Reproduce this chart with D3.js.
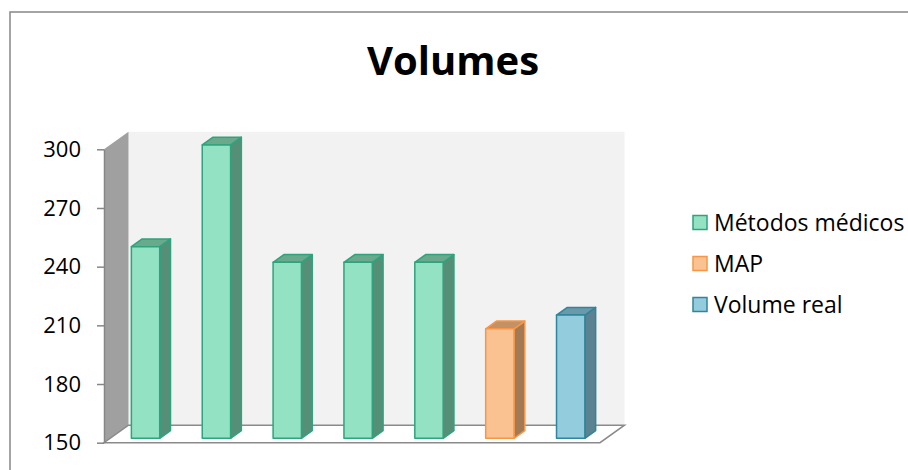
<!DOCTYPE html>
<html>
<head>
<meta charset="utf-8">
<script src="https://cdn.jsdelivr.net/npm/d3@7"></script>
<style>
  body { margin: 0; background: #fff; }
  svg { display: block; font-family: "Open Sans", sans-serif; }
</style>
</head>
<body>
<svg id="chart" width="908" height="470"></svg>
<script>
// chart values
var categories = ['c1', 'c2', 'c3', 'c4', 'c5', 'c6', 'c7'];
var volumes = [248, 300, 240, 240, 240, 206, 213];
var groups = ['Métodos médicos', 'Métodos médicos', 'Métodos médicos', 'Métodos médicos', 'Métodos médicos', 'MAP', 'Volume real'];
var legend_names = ['Métodos médicos', 'MAP', 'Volume real'];
var y_ticks = [150, 180, 210, 240, 270, 300];

var COLORS = {
	'Métodos médicos': {fill: '#93e2c3', stroke: '#2ea37e', side: '#568f78', top: '#6aa98c'},
	'MAP': {fill: '#fac290', stroke: '#f79646', side: '#a27a56', top: '#c29166'},
	'Volume real': {fill: '#93cddd', stroke: '#31849b', side: '#5b8290', top: '#6a9aaa'}
};

// 3d depth vector of the plot box
var DX = 24.5, DY = -17.5;
var Z0 = 0.25, Z1 = 0.69;

var svg = d3.select('#chart');

// outer frame
svg.append('rect')
	.attr('x', 10).attr('y', 12)
	.attr('width', 910).attr('height', 470)
	.attr('fill', 'none')
	.attr('stroke', '#878787')
	.attr('stroke-width', 1.5);

svg.append('text')
	.attr('x', 453).attr('y', 75)
	.attr('text-anchor', 'middle')
	.attr('font-size', 40)
	.attr('font-weight', 'bold')
	.text('Volumes');

var x = d3.scaleBand()
	.domain(categories)
	.range([104, 600])
	.paddingInner(0)
	.paddingOuter(0);

var y = d3.scaleLinear()
	.domain([150, 300])
	.range([442.7, 149.3]);

var x0 = x.range()[0], x1 = x.range()[1];
var yb = y(150), yt = y(300);

function pts(a) { return a.map(function(p) { return p.join(','); }).join(' '); }

// back wall
svg.append('polygon')
	.attr('points', pts([[x0 + DX, yt + DY], [x1 + DX, yt + DY], [x1 + DX, yb + DY], [x0 + DX, yb + DY]]))
	.attr('fill', '#f2f2f2');

// side wall
svg.append('polygon')
	.attr('points', pts([[x0, yt], [x0 + DX, yt + DY], [x0 + DX, yb + DY], [x0, yb]]))
	.attr('fill', '#a0a0a0');

// floor
svg.append('polygon')
	.attr('points', pts([[x0, yb], [x1, yb], [x1 + DX, yb + DY], [x0 + DX, yb + DY]]))
	.attr('fill', '#ffffff')
	.attr('stroke', '#8a8a8a')
	.attr('stroke-width', 1.5);

// y axis
var y_axis = svg.append('g')
	.attr('transform', 'translate(' + x0 + ',0)')
	.call(d3.axisLeft(y).tickValues(y_ticks).tickSize(7).tickPadding(16).tickSizeOuter(0));
y_axis.select('.domain').attr('stroke', '#868686').attr('stroke-width', 1.5);
y_axis.selectAll('.tick line').attr('stroke', '#868686').attr('stroke-width', 1.5);
y_axis.selectAll('.tick text')
	.attr('font-family', '"Open Sans", sans-serif')
	.attr('font-size', 22)
	.attr('fill', '#000');

// bars
var bw = x.bandwidth() * 0.4;
var bars = svg.append('g');
volumes.forEach(function(v, i) {
	var c = COLORS[groups[i]];
	var left = x(categories[i]) + (x.bandwidth() - bw) / 2 + Z0 * DX;
	var right = left + bw;
	var top = y(v) + Z0 * DY;
	var bottom = yb + Z0 * DY;
	var ddx = (Z1 - Z0) * DX, ddy = (Z1 - Z0) * DY;
	var g = bars.append('g')
		.attr('stroke', c.stroke)
		.attr('stroke-width', 1.5)
		.attr('stroke-linejoin', 'round');
	g.append('polygon')
		.attr('points', pts([[right, top], [right + ddx, top + ddy], [right + ddx, bottom + ddy], [right, bottom]]))
		.attr('fill', c.side);
	g.append('polygon')
		.attr('points', pts([[left, top], [left + ddx, top + ddy], [right + ddx, top + ddy], [right, top]]))
		.attr('fill', c.top);
	g.append('rect')
		.attr('x', left).attr('y', top)
		.attr('width', bw).attr('height', bottom - top)
		.attr('fill', c.fill);
});

// legend
var legend = svg.append('g');
legend_names.forEach(function(name, i) {
	var c = COLORS[name];
	var ly = 222.5 + i * 41;
	legend.append('rect')
		.attr('x', 693).attr('y', ly - 7)
		.attr('width', 14).attr('height', 14)
		.attr('fill', c.fill)
		.attr('stroke', c.stroke)
		.attr('stroke-width', 1.5);
	legend.append('text')
		.attr('x', 714).attr('y', ly + 8)
		.attr('font-size', 23)
		.attr('fill', '#000')
		.text(name);
});
</script>
</body>
</html>
